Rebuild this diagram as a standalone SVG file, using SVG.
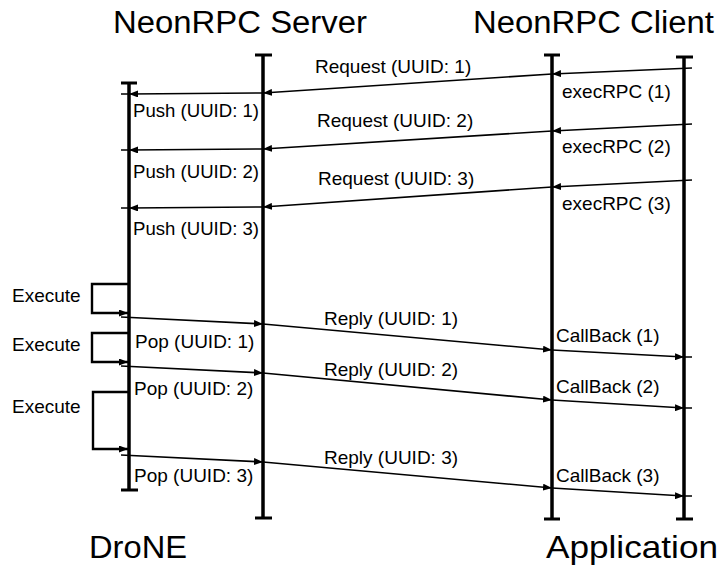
<svg xmlns="http://www.w3.org/2000/svg" width="723" height="570" viewBox="0 0 723 570">
<defs>
<marker id="ah" markerUnits="userSpaceOnUse" markerWidth="9" markerHeight="7" refX="9" refY="3.5" orient="auto">
<path d="M0,0 L9,3.5 L0,7 z" fill="#000"/>
</marker>
<style>
.life{stroke:#000;stroke-width:3.5;fill:none}
.cap{stroke:#000;stroke-width:3;fill:none}
.msg{stroke:#000;stroke-width:1.6;fill:none}
.tail{marker-end:url(#ah)}
.mid{marker-mid:url(#ah)}
.loop{stroke:#000;stroke-width:2.4;fill:none;marker-end:url(#ah)}
text{font-family:"Liberation Sans",Arial,sans-serif;fill:#000}
.lbl{font-size:19px}
.ttl{font-size:31px}
</style>
</defs>
<rect width="723" height="570" fill="#fff"/>
<g id="drone">
<line class="life" x1="129" y1="83" x2="129" y2="490"/>
<line class="cap" x1="121" y1="83" x2="137" y2="83"/>
<line class="cap" x1="121" y1="490" x2="138" y2="490"/>
<text class="ttl" x="89" y="558" textLength="98" lengthAdjust="spacingAndGlyphs" style="font-size:32px">DroNE</text>
</g>
<g id="server">
<line class="life" x1="263" y1="55" x2="263" y2="518"/>
<line class="cap" x1="255" y1="55" x2="272" y2="55"/>
<line class="cap" x1="255" y1="518" x2="272" y2="518"/>
<text class="ttl" x="113" y="33" textLength="254" lengthAdjust="spacingAndGlyphs">NeonRPC Server</text>
</g>
<g id="client">
<line class="life" x1="552" y1="55" x2="552" y2="519"/>
<line class="cap" x1="544" y1="55" x2="560" y2="55"/>
<line class="cap" x1="544" y1="519" x2="560" y2="519"/>
<text class="ttl" x="473" y="33" textLength="241" lengthAdjust="spacingAndGlyphs">NeonRPC Client</text>
</g>
<g id="application">
<line class="life" x1="684" y1="57" x2="684" y2="519"/>
<line class="cap" x1="676" y1="57" x2="693" y2="57"/>
<line class="cap" x1="676" y1="519" x2="693" y2="519"/>
<text class="ttl" x="546" y="558" textLength="172" lengthAdjust="spacingAndGlyphs" style="font-size:32px">Application</text>
</g>
<g id="connectors">
<polyline class="msg tail" points="692,68 552,74"/>
<polyline class="msg tail" points="552,74 263,93"/>
<polyline class="msg mid" points="263,93 129,94 121,94"/>
<polyline class="msg tail" points="692,124 552,131"/>
<polyline class="msg tail" points="552,131 263,149"/>
<polyline class="msg mid" points="263,149 129,150 121,150"/>
<polyline class="msg tail" points="692,180 552,187"/>
<polyline class="msg tail" points="552,187 263,207"/>
<polyline class="msg mid" points="263,207 129,208 121,208"/>
<polyline class="loop" points="128,284 92,284 92,313 128,313"/>
<polyline class="loop" points="128,333 92,333 92,362 128,362"/>
<polyline class="loop" points="128,392 93,392 93,449 128,449"/>
<polyline class="msg tail" points="121,317 263,324"/>
<polyline class="msg tail" points="263,324 552,350"/>
<polyline class="msg mid" points="552,350 684,357 692,357"/>
<polyline class="msg tail" points="121,366 263,373"/>
<polyline class="msg tail" points="263,373 552,400"/>
<polyline class="msg mid" points="552,400 684,408 692,408"/>
<polyline class="msg tail" points="121,455 263,462"/>
<polyline class="msg tail" points="263,462 552,488"/>
<polyline class="msg mid" points="552,488 684,496 692,496"/>
</g>
<g id="labels">
<text class="lbl" x="315" y="73">Request (UUID: 1)</text>
<text class="lbl" x="317" y="127">Request (UUID: 2)</text>
<text class="lbl" x="318" y="185">Request (UUID: 3)</text>
<text class="lbl" x="562" y="98">execRPC (1)</text>
<text class="lbl" x="562" y="153">execRPC (2)</text>
<text class="lbl" x="562" y="210">execRPC (3)</text>
<text class="lbl" x="133" y="117" textLength="126" lengthAdjust="spacingAndGlyphs">Push (UUID: 1)</text>
<text class="lbl" x="133" y="178" textLength="126" lengthAdjust="spacingAndGlyphs">Push (UUID: 2)</text>
<text class="lbl" x="133" y="235" textLength="126" lengthAdjust="spacingAndGlyphs">Push (UUID: 3)</text>
<text class="lbl" x="12" y="302">Execute</text>
<text class="lbl" x="12" y="351">Execute</text>
<text class="lbl" x="12" y="413">Execute</text>
<text class="lbl" x="135" y="348">Pop (UUID: 1)</text>
<text class="lbl" x="134" y="395">Pop (UUID: 2)</text>
<text class="lbl" x="134" y="482">Pop (UUID: 3)</text>
<text class="lbl" x="324" y="325">Reply (UUID: 1)</text>
<text class="lbl" x="324" y="376">Reply (UUID: 2)</text>
<text class="lbl" x="324" y="464">Reply (UUID: 3)</text>
<text class="lbl" x="556" y="342">CallBack (1)</text>
<text class="lbl" x="556" y="393">CallBack (2)</text>
<text class="lbl" x="556" y="482">CallBack (3)</text>
</g>
</svg>
